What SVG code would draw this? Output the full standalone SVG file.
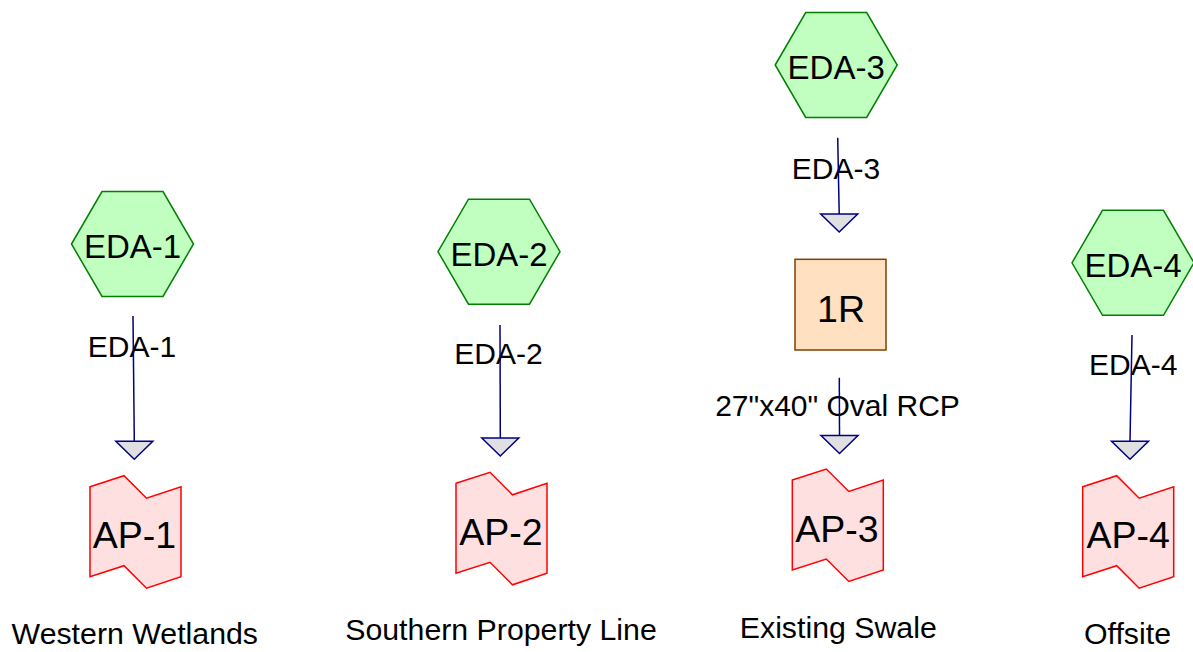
<svg xmlns="http://www.w3.org/2000/svg" width="1193" height="652" viewBox="0 0 1193 652">
<style>
  .hex { fill: #c0ffc0; stroke: #008000; stroke-width: 1.5; }
  .ap { fill: #ffe0e0; stroke: #ff0000; stroke-width: 1.5; }
  .reach { fill: #ffe0c0; stroke: #804000; stroke-width: 1.5; }
  .edge { stroke: #000080; stroke-width: 1.5; fill: none; }
  .tri { fill: #e0e0e0; stroke: #000080; stroke-width: 1.5; }
  text { font-family: "Liberation Sans", Arial, sans-serif; fill: #000; text-anchor: middle; }
  .nl { font-size: 33px; }
  .al { font-size: 37.5px; }
  .el { font-size: 30px; }
  .bl { font-size: 30.3px; }
</style>
<defs>
  <polygon id="hexShape" points="-61,0 -30.5,-52.5 30.5,-52.5 61,0 30.5,52.5 -30.5,52.5"/>
  <polygon id="apShape" points="-45.5,-45 -11.5,-56 11,-33.5 45.5,-45 45.5,45 11,56.5 -11.5,34 -45.5,45"/>
  <polygon id="triShape" points="-18.5,-18 18.5,-18 0,0"/>
</defs>
<rect width="1193" height="652" fill="#ffffff"/>

<g id="connectors">
  <g id="e1">
    <text class="el" x="132" y="357">EDA-1</text>
    <line class="edge" x1="133" y1="316" x2="134.3" y2="441.5"/>
    <use href="#triShape" class="tri" x="134.3" y="459.3"/>
  </g>
  <g id="e2">
    <text class="el" x="498.5" y="364">EDA-2</text>
    <line class="edge" x1="500" y1="325" x2="500.3" y2="438"/>
    <use href="#triShape" class="tri" x="500.3" y="456"/>
  </g>
  <g id="e3">
    <text class="el" x="836" y="178.5">EDA-3</text>
    <line class="edge" x1="837.7" y1="137.7" x2="839.2" y2="214"/>
    <use href="#triShape" class="tri" x="839.2" y="232"/>
  </g>
  <g id="e1r">
    <text class="el" x="837.5" y="416">27"x40" Oval RCP</text>
    <line class="edge" x1="839.3" y1="377.7" x2="839.5" y2="435.5"/>
    <use href="#triShape" class="tri" x="839.5" y="453.5"/>
  </g>
  <g id="e4">
    <text class="el" x="1133.3" y="375">EDA-4</text>
    <line class="edge" x1="1132" y1="335" x2="1130" y2="441.3"/>
    <use href="#triShape" class="tri" x="1130" y="459.3"/>
  </g>
</g>

<g id="EDA-1">
  <use href="#hexShape" class="hex" x="132.5" y="244"/>
  <text class="nl" x="132.5" y="257.5">EDA-1</text>
</g>
<g id="EDA-2">
  <use href="#hexShape" class="hex" x="499" y="251.7"/>
  <text class="nl" x="499" y="266">EDA-2</text>
</g>
<g id="EDA-3">
  <use href="#hexShape" class="hex" x="836.2" y="65"/>
  <text class="nl" x="836.2" y="79">EDA-3</text>
</g>
<g id="EDA-4">
  <use href="#hexShape" class="hex" x="1133" y="262.8"/>
  <text class="nl" x="1133" y="276.8">EDA-4</text>
</g>

<g id="R1">
  <rect class="reach" x="795" y="259.3" width="91" height="90.7"/>
  <text class="al" x="841" y="321.5">1R</text>
</g>

<g id="AP-1">
  <use href="#apShape" class="ap" x="135.5" y="531.7"/>
  <text class="al" x="134.5" y="547.5">AP-1</text>
  <text class="bl" x="134.8" y="644">Western Wetlands</text>
</g>
<g id="AP-2">
  <use href="#apShape" class="ap" x="501.5" y="528.3"/>
  <text class="al" x="501" y="544.5">AP-2</text>
  <text class="bl" x="501" y="640">Southern Property Line</text>
</g>
<g id="AP-3">
  <use href="#apShape" class="ap" x="837.8" y="525"/>
  <text class="al" x="837" y="541.5">AP-3</text>
  <text class="bl" x="838.3" y="638">Existing Swale</text>
</g>
<g id="AP-4">
  <use href="#apShape" class="ap" x="1128.2" y="531.7"/>
  <text class="al" x="1128.2" y="547.5">AP-4</text>
  <text class="bl" x="1127.5" y="644">Offsite</text>
</g>
</svg>
